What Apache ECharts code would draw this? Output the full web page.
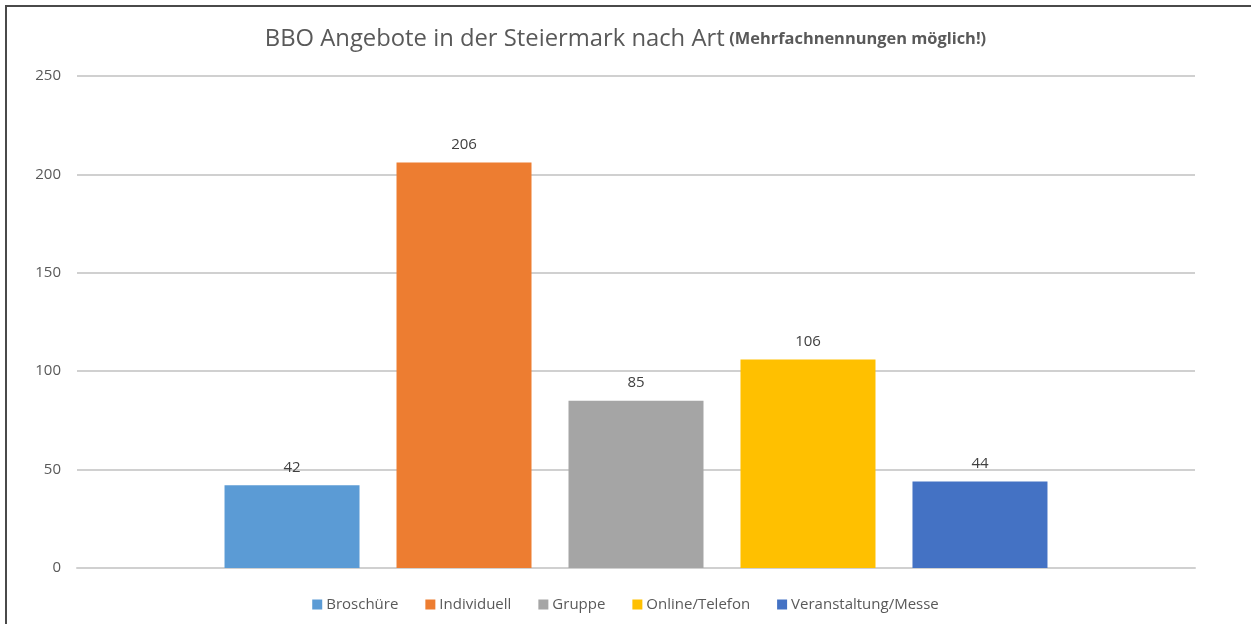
<!DOCTYPE html>
<html>
<head>
<meta charset="utf-8">
<script src="https://cdn.jsdelivr.net/npm/echarts@6/dist/echarts.min.js"></script>
<style>
  html, body { margin: 0; padding: 0; background: #fff; }
  #frame { position: absolute; left: 5px; top: 5px; width: 1260px; height: 640px;
           border-top: 2px solid #4a4a4a; border-left: 2px solid #4a4a4a; }
  #chart { position: absolute; left: 0; top: 0; width: 1251px; height: 624px; }
</style>
</head>
<body>
<div id="frame"></div>
<div id="chart"></div>
<script>
// Werte aus der Grafik
const seriesNames = ['Broschüre', 'Individuell', 'Gruppe', 'Online/Telefon', 'Veranstaltung/Messe'];
const seriesValues = [42, 206, 85, 106, 44];
const seriesColors = ['#5B9BD5', '#ED7D31', '#A5A5A5', '#FFC000', '#4472C4'];
const yTicks = [0, 50, 100, 150, 200, 250];

const font = '"Open Sans", "Noto Sans", sans-serif';
const grey = '#595959';

let myChart = echarts.init(document.getElementById('chart'));

let series = seriesNames.map((name, i) => ({
  name: name,
  type: 'bar',
  data: [seriesValues[i]],
  barWidth: 135,
  barGap: '27.4%',
  itemStyle: { color: seriesColors[i] },
  label: {
    show: true,
    position: 'top',
    distance: 10,
    color: '#404040',
    fontSize: 15,
    fontFamily: font
  }
}));

let option = {
  animation: false,
  textStyle: { fontFamily: font },
  title: {
    text: '{a|BBO Angebote in der Steiermark nach Art} {b|(Mehrfachnennungen möglich!)}',
    left: 'center',
    top: 22,
    textStyle: {
      rich: {
        a: { fontSize: 23.8, fontWeight: 'normal', color: grey, fontFamily: font },
        b: { fontSize: 16.4, fontWeight: 'bold', color: grey, fontFamily: font }
      }
    }
  },
  legend: {
    bottom: 7,
    left: 'center',
    itemWidth: 10,
    itemHeight: 10,
    itemGap: 27,
    icon: 'rect',
    textStyle: { color: grey, fontSize: 15, fontFamily: font, padding: [0, 0, 0, -1] },
    data: seriesNames
  },
  grid: { left: 77, right: 56, top: 76, bottom: 56 },
  xAxis: {
    type: 'category',
    data: [''],
    axisLine: { show: true, lineStyle: { color: '#d0d0d0', width: 2 } },
    axisTick: { show: false },
    axisLabel: { show: false }
  },
  yAxis: {
    type: 'value',
    min: yTicks[0],
    max: yTicks[yTicks.length - 1],
    interval: 50,
    axisLine: { show: false },
    axisTick: { show: false },
    axisLabel: { color: grey, fontSize: 15, margin: 16, fontFamily: font },
    splitLine: { lineStyle: { color: '#d0d0d0', width: 2 } }
  },
  series: series
};
myChart.setOption(option);
</script>
</body>
</html>
